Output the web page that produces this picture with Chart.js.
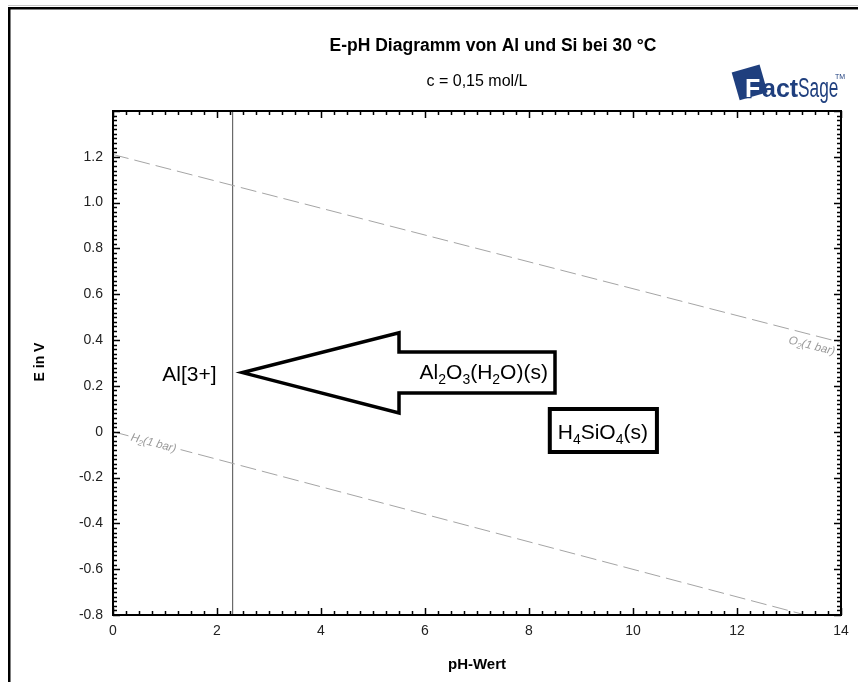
<!DOCTYPE html>
<html>
<head>
<meta charset="utf-8">
<script src="https://cdn.jsdelivr.net/npm/chart.js@4.4.1/dist/chart.umd.min.js"></script>
<style>
  html, body { margin: 0; padding: 0; background: #fff; }
  #wrap { position: relative; width: 858px; height: 682px; overflow: hidden; }
  canvas { display: block; }
</style>
</head>
<body>
<div id="wrap"><canvas id="chart" width="858" height="682"></canvas></div>
<script>
// E-pH diagram of Al and Si at 30 °C (c = 0.15 mol/L)

// Axis ranges
const phRange = [0, 14];
const eRange = [-0.8, 1.4];

// Water stability limits (dashed)
const o2Ph = [0, 14];
const o2E = [1.21, 0.39];
const h2Ph = [0, 14];
const h2E = [0, -0.841];

// Al[3+] / Al2O3(H2O)(s) boundary
const alBoundaryPh = [2.3, 2.3];
const alBoundaryE = [1.4, -0.8];

// Arrow outline pointing to the Al[3+] field
const arrowPh = [7.0, 8.5, 8.5, 5.5, 5.5, 2.49, 5.5, 5.5, 7.0];
const arrowE = [0.348, 0.348, 0.169, 0.169, 0.082, 0.258, 0.432, 0.348, 0.348];

// Frame around the H4SiO4(s) label
const boxPh = [9.4, 10.46, 10.46, 8.4, 8.4, 9.4];
const boxE = [0.099, 0.099, -0.088, -0.088, 0.099, 0.099];

// Field labels ("_x" = subscript x)
const fieldNames = ['Al[3+]', 'Al_2O_3(H_2O)(s)', 'H_4SiO_4(s)'];
const fieldPh = [1.47, 7.13, 9.42];
const fieldE = [0.252, 0.262, 0.0];

// Gas line labels
const gasNames = ['O_2(1 bar)', 'H_2(1 bar)'];
const gasPh = [13.05, 0.35];

const FONT = '"Liberation Sans", Arial, Helvetica, sans-serif';
Chart.defaults.font.family = FONT;

const toPts = (xs, ys) => xs.map((v, i) => ({ x: v, y: ys[i] }));

function richParts(s) {
  const parts = [];
  for (let i = 0; i < s.length; i++) {
    if (s[i] === '_') {
      parts.push({ t: s[i + 1], sub: true });
      i++;
    } else {
      const last = parts[parts.length - 1];
      if (last && !last.sub) last.t += s[i];
      else parts.push({ t: s[i], sub: false });
    }
  }
  return parts;
}

function drawRich(ctx, s, x, y, size, align, style) {
  const parts = richParts(s);
  const subSize = Math.round(size * 0.66);
  let w = 0;
  parts.forEach(p => {
    ctx.font = `${style} ${p.sub ? subSize : size}px ${FONT}`;
    p.w = ctx.measureText(p.t).width;
    w += p.w;
  });
  let cx = align === 'center' ? x - w / 2 : align === 'right' ? x - w : x;
  ctx.textAlign = 'left';
  ctx.textBaseline = 'alphabetic';
  parts.forEach(p => {
    ctx.font = `${style} ${p.sub ? subSize : size}px ${FONT}`;
    ctx.fillText(p.t, cx, p.sub ? y + size * 0.22 : y);
    cx += p.w;
  });
  return w;
}

function drawLogo(ctx) {
  const navy = '#1f3f7e';
  ctx.save();
  ctx.translate(749, 82);
  ctx.rotate(-0.28);
  ctx.fillStyle = navy;
  ctx.fillRect(-14, -14, 29, 29);
  ctx.restore();

  ctx.save();
  ctx.font = `bold 25px ${FONT}`;
  ctx.textBaseline = 'alphabetic';
  ctx.lineWidth = 2.5;
  ctx.strokeStyle = navy;
  ctx.fillStyle = '#fff';
  ctx.strokeText('F', 745, 97);
  ctx.fillText('F', 745, 97);
  ctx.fillStyle = navy;
  ctx.fillText('act', 762, 97);
  ctx.translate(798, 97);
  ctx.scale(0.64, 1);
  ctx.font = `27px ${FONT}`;
  ctx.fillText('Sage', 0, 0);
  ctx.restore();

  ctx.save();
  ctx.fillStyle = navy;
  ctx.font = `7px ${FONT}`;
  ctx.fillText('TM', 835, 79);
  ctx.restore();
}

// Outer page frame and white background
const pageFrame = {
  id: 'pageFrame',
  beforeDraw(chart) {
    const ctx = chart.ctx;
    ctx.save();
    ctx.fillStyle = '#fff';
    ctx.fillRect(0, 0, chart.width, chart.height);
    ctx.fillStyle = '#c8c8c8';
    ctx.fillRect(8, 5, chart.width, 1);
    ctx.fillStyle = '#000';
    ctx.fillRect(8, 7, chart.width, 2.5);
    ctx.fillRect(8, 7, 2.5, chart.height);
    ctx.restore();
  }
};

// Axis box with inward major/minor tick marks on all four sides
const boxTicks = {
  id: 'boxTicks',
  afterDraw(chart) {
    const { ctx, chartArea: a, scales: { x, y } } = chart;
    ctx.save();
    ctx.strokeStyle = '#000';
    ctx.lineWidth = 1.5;
    ctx.beginPath();
    for (let i = 0; i <= 56; i++) {
      const px = Math.round(x.getPixelForValue(i * 0.25)) + 0.5;
      const len = i % 8 === 0 ? 7 : 4;
      ctx.moveTo(px, a.bottom); ctx.lineTo(px, a.bottom - len);
      ctx.moveTo(px, a.top); ctx.lineTo(px, a.top + len);
    }
    for (let i = 0; i <= 110; i++) {
      const py = Math.round(y.getPixelForValue(-0.8 + i * 0.02)) + 0.5;
      const len = i % 10 === 0 ? 7 : 4;
      ctx.moveTo(a.left, py); ctx.lineTo(a.left + len, py);
      ctx.moveTo(a.right, py); ctx.lineTo(a.right - len, py);
    }
    ctx.stroke();
    ctx.lineWidth = 2;
    ctx.strokeRect(a.left, a.top, a.right - a.left, a.bottom - a.top);
    ctx.restore();
  }
};

// Titles, axis titles, field labels, gas labels and logo
const annotations = {
  id: 'annotations',
  afterDatasetsDraw(chart) {
    const { ctx, chartArea: a, scales: { x, y } } = chart;
    ctx.save();
    ctx.fillStyle = '#000';

    ctx.textAlign = 'center';
    ctx.textBaseline = 'alphabetic';
    ctx.font = `bold 17.5px ${FONT}`;
    ctx.fillText('E-pH Diagramm von Al und Si bei 30 °C', 493, 51);
    ctx.font = `16px ${FONT}`;
    ctx.fillText('c = 0,15 mol/L', (a.left + a.right) / 2, 86);

    ctx.font = `bold 15px ${FONT}`;
    ctx.fillText('pH-Wert', (a.left + a.right) / 2, 669);
    ctx.save();
    ctx.translate(44, 362);
    ctx.rotate(-Math.PI / 2);
    ctx.font = `bold 14px ${FONT}`;
    ctx.fillText('E in V', 0, 0);
    ctx.restore();

    // Field labels
    fieldNames.forEach((name, i) => {
      const px = x.getPixelForValue(fieldPh[i]);
      const py = y.getPixelForValue(fieldE[i]);
      drawRich(ctx, name, px, py + 7.5, 21, 'center', '');
    });

    // Gas line labels, rotated along their lines
    const gasLines = [[o2Ph, o2E, 14], [h2Ph, h2E, 4]];
    gasNames.forEach((name, i) => {
      const [lx, ly, off] = gasLines[i];
      const x0 = x.getPixelForValue(lx[0]), y0 = y.getPixelForValue(ly[0]);
      const x1 = x.getPixelForValue(lx[1]), y1 = y.getPixelForValue(ly[1]);
      const ang = Math.atan2(y1 - y0, x1 - x0);
      const t = (gasPh[i] - lx[0]) / (lx[1] - lx[0]);
      const ax = x0 + (x1 - x0) * t, ay = y0 + (y1 - y0) * t;
      ctx.save();
      ctx.translate(ax, ay);
      ctx.rotate(ang);
      if (i === 1) {
        ctx.fillStyle = '#fff';
        ctx.fillRect(-1, -10, 52, 15);
      }
      ctx.fillStyle = '#9a9a9a';
      drawRich(ctx, name, 0, off, 11.5, 'left', 'italic');
      ctx.restore();
    });

    drawLogo(ctx);
    ctx.restore();
  }
};

const lineDs = (data, color, width, dash) => ({
  data,
  showLine: true,
  borderColor: color,
  borderWidth: width,
  borderDash: dash || [],
  borderJoinStyle: 'miter',
  pointRadius: 0,
  pointHoverRadius: 0,
  fill: false,
  tension: 0
});

new Chart(document.getElementById('chart'), {
  type: 'scatter',
  data: {
    datasets: [
      lineDs(toPts(o2Ph, o2E), '#a5a5a5', 1, [16, 6]),
      lineDs(toPts(h2Ph, h2E), '#a5a5a5', 1, [16, 6]),
      lineDs(toPts(alBoundaryPh, alBoundaryE), '#6a6a6a', 1.2),
      lineDs(toPts(arrowPh, arrowE), '#000', 3.5),
      lineDs(toPts(boxPh, boxE), '#000', 4)
    ]
  },
  options: {
    responsive: false,
    animation: false,
    devicePixelRatio: 1,
    layout: { padding: { top: 111, right: 17, left: 0, bottom: 0 } },
    plugins: { legend: { display: false }, tooltip: { enabled: false }, title: { display: false } },
    scales: {
      x: {
        type: 'linear',
        min: phRange[0],
        max: phRange[1],
        grid: { display: false, drawTicks: false },
        border: { display: false },
        ticks: {
          stepSize: 2,
          padding: 8,
          color: '#222',
          font: { size: 14 },
          maxRotation: 0,
          callback: v => String(Math.round(v))
        },
        afterFit: s => { s.height = 67; }
      },
      y: {
        type: 'linear',
        min: eRange[0],
        max: eRange[1],
        grid: { display: false, drawTicks: false },
        border: { display: false },
        ticks: {
          stepSize: 0.2,
          padding: 10,
          color: '#222',
          font: { size: 14 },
          callback: v => {
            if (v > 1.3) return '';
            if (Math.abs(v) < 1e-9) return '0';
            return v.toFixed(1);
          }
        },
        afterFit: s => { s.width = 113; }
      }
    }
  },
  plugins: [pageFrame, boxTicks, annotations]
});
</script>
</body>
</html>
